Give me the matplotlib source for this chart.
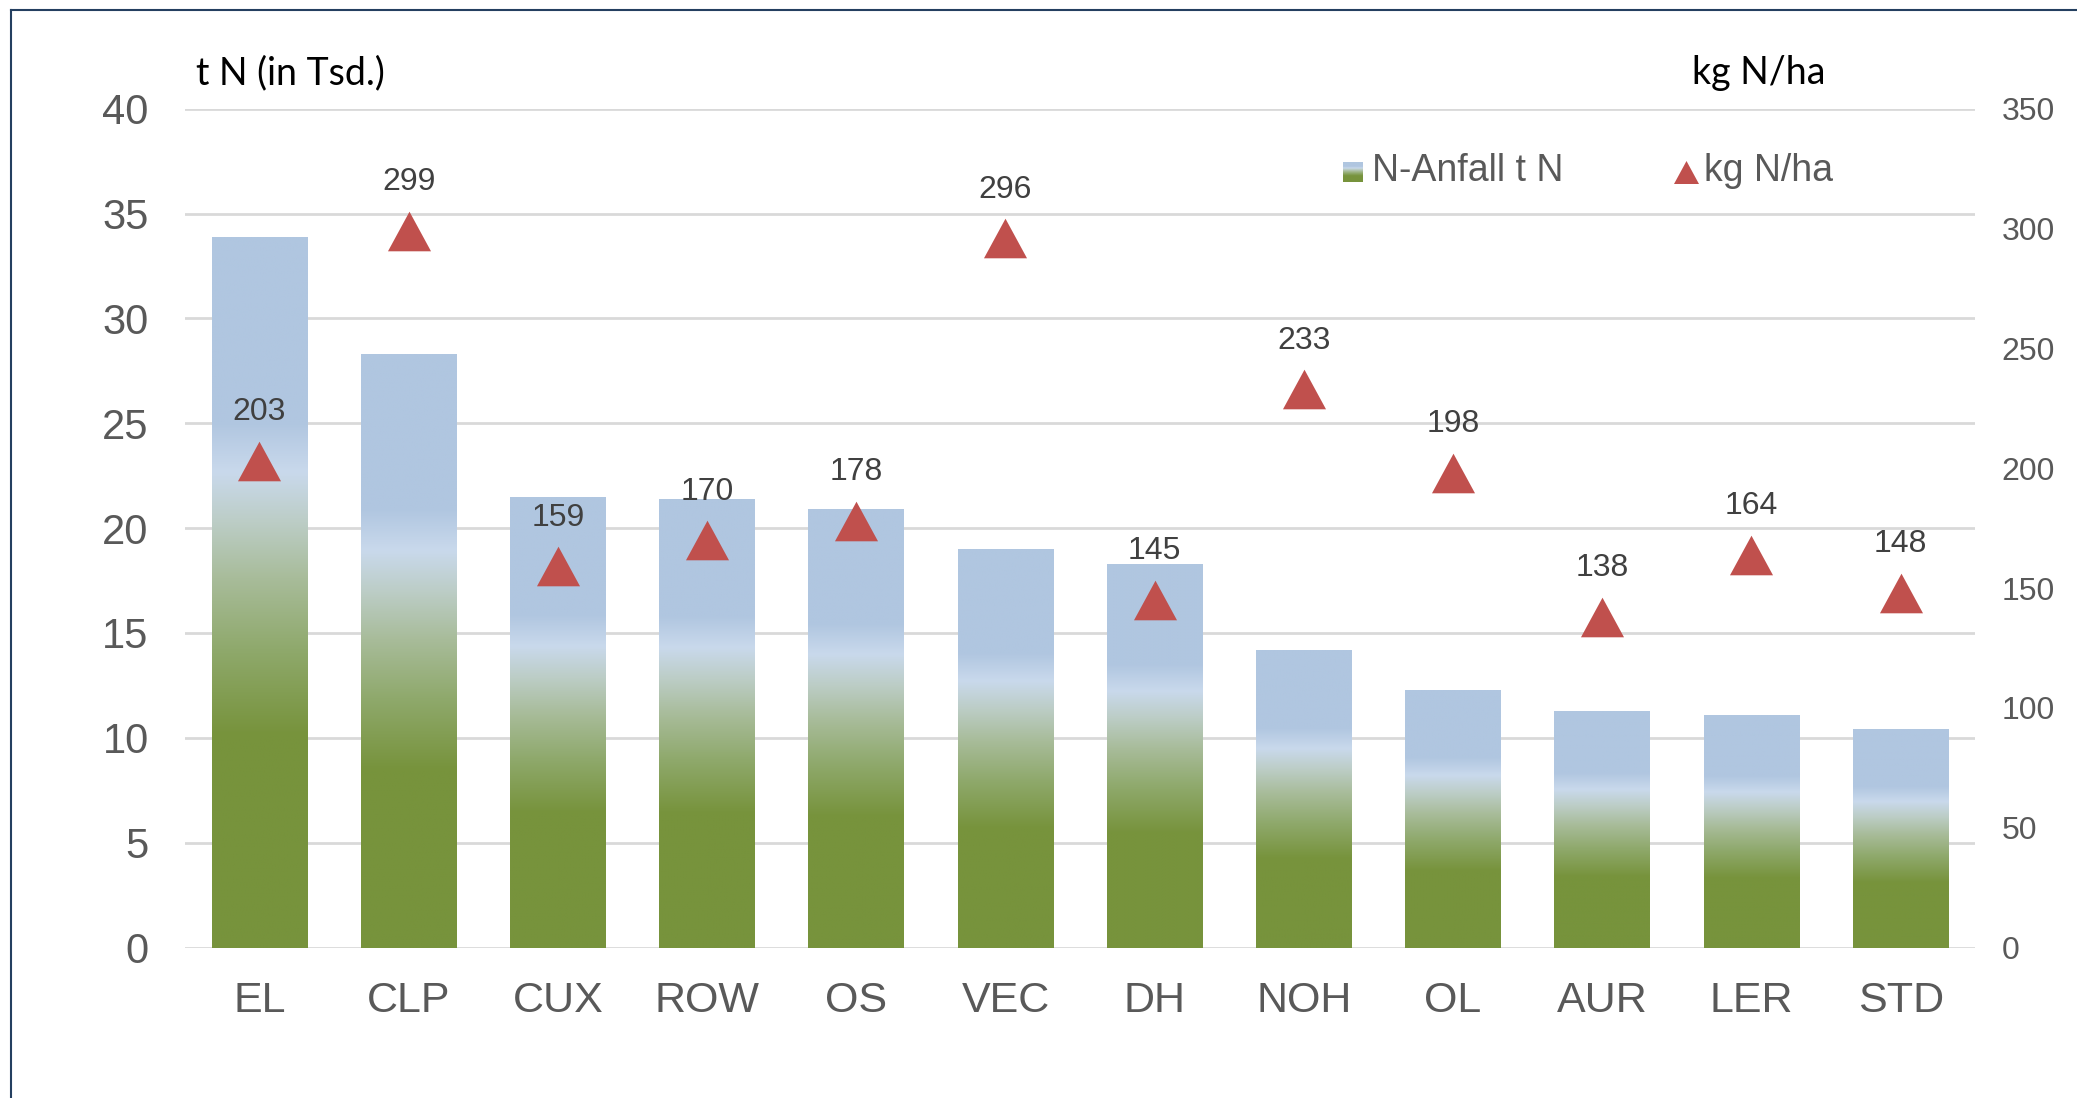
import numpy as np
import matplotlib.pyplot as plt
from matplotlib.colors import LinearSegmentedColormap
from matplotlib.lines import Line2D

kreise = ['EL', 'CLP', 'CUX', 'ROW', 'OS', 'VEC', 'DH', 'NOH', 'OL', 'AUR', 'LER', 'STD']
n_anfall = [33.9, 28.3, 21.5, 21.4, 20.9, 19.0, 18.3, 14.2, 12.3, 11.3, 11.1, 10.4]
kg_ha = [203, 299, 159, 170, 178, 296, 145, 233, 198, 138, 164, 148]
yticks_left = [0, 5, 10, 15, 20, 25, 30, 35, 40]
yticks_right = [0, 50, 100, 150, 200, 250, 300, 350]

arial = ['Liberation Sans', 'DejaVu Sans']
title_font = ['Lato', 'DejaVu Sans']
grau = '#595959'
rot = '#c0504d'

# gradient green -> light band -> blue (per bar, relative to bar height)
grad = LinearSegmentedColormap.from_list('gruen_blau', [
    (0.00, '#77933c'), (0.30, '#77933c'), (0.42, '#8fa96c'),
    (0.52, '#a8bc9a'), (0.60, '#bccdc6'), (0.67, '#c9d9ec'),
    (0.74, '#b0c6e0'), (1.00, '#b0c6e0')])

# triangle slightly wider than tall
tri = [(-0.5, -0.46), (0.5, -0.46), (0.0, 0.46), (-0.5, -0.46)]

fig = plt.figure(figsize=(20.77, 10.98), dpi=100)
ax = fig.add_axes([0.089, 0.137, 0.862, 0.764])
ax2 = ax.twinx()

x = np.arange(len(kreise))
w = 0.64
g = np.linspace(0, 1, 256).reshape(-1, 1)
for xi, h in zip(x, n_anfall):
    ax.imshow(g, cmap=grad, origin='lower', aspect='auto', interpolation='bilinear',
              extent=[xi - w / 2, xi + w / 2, 0, h], zorder=2)

ax.set_xlim(-0.5, len(kreise) - 0.5)
ax.set_ylim(0, 40)
ax.set_yticks(yticks_left)
ax.yaxis.grid(True, color='#d9d9d9', linewidth=2, zorder=0)
ax.set_axisbelow(True)
for s in ax.spines.values():
    s.set_visible(False)
for s in ax2.spines.values():
    s.set_visible(False)
ax.tick_params(axis='y', length=0, pad=26, labelsize=30, labelcolor=grau)
ax.tick_params(axis='x', length=0, pad=24, labelsize=31, labelcolor=grau)
ax.set_xticks(x)
ax.set_xticklabels(kreise, family=arial)
for t in ax.get_yticklabels():
    t.set_family(arial)

ax2.plot(x, kg_ha, linestyle='none', marker=tri, markersize=31,
         color=rot, markeredgewidth=0, zorder=5)
for xi, v in zip(x, kg_ha):
    ax2.annotate(str(v), (xi, v), xytext=(0, 35), textcoords='offset points',
                 ha='center', va='center', fontsize=23, color='#404040', family=arial)
ax2.set_ylim(0, 350)
ax2.set_yticks(yticks_right)
ax2.tick_params(axis='y', length=0, pad=19, labelsize=23, labelcolor=grau)
for t in ax2.get_yticklabels():
    t.set_family(arial)

# axis titles
fig.text(196 / 2077, 1 - 73 / 1098, 't N (in Tsd.)', fontsize=27, family=title_font,
         ha='left', va='center', color='black')
fig.text(1328 * 1.3246 / 2077, 1 - 73 / 1098, 'kg N/ha', fontsize=27, family=title_font,
         ha='center', va='center', color='black')

# legend drawn by hand (gradient handle)
lax = fig.add_axes([1343 / 2077, 1 - 182 / 1098, 20 / 2077, 20 / 1098])
lax.imshow(g, cmap=grad, origin='lower', aspect='auto', interpolation='bilinear')
lax.axis('off')
fig.text(1372 / 2077, 1 - 171 / 1098, 'N-Anfall t N', fontsize=27, family=arial,
         ha='left', va='center', color=grau)
fig.add_artist(Line2D([1686 / 2077], [1 - 172 / 1098], transform=fig.transFigure,
                      marker=tri, markersize=18, color=rot, markeredgewidth=0,
                      linestyle='none'))
fig.text(1704 / 2077, 1 - 171 / 1098, 'kg N/ha', fontsize=27, family=arial,
         ha='left', va='center', color=grau)

# frame of the chart
rahmen = '#243f60'
fig.add_artist(Line2D([11 / 2077, 11 / 2077], [0, 1 - 10 / 1098], transform=fig.transFigure,
                      color=rahmen, linewidth=1.5))
fig.add_artist(Line2D([11 / 2077, 1], [1 - 10 / 1098, 1 - 10 / 1098], transform=fig.transFigure,
                      color=rahmen, linewidth=1.5))

fig.savefig('out.png', dpi=100)
